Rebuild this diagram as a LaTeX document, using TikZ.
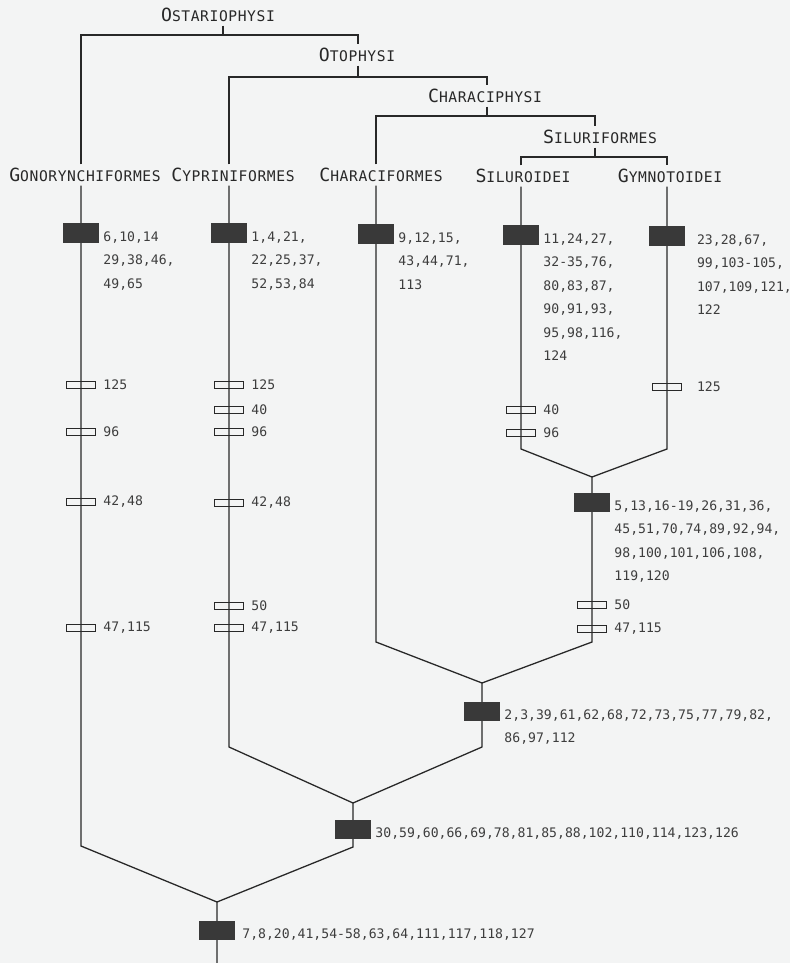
\documentclass[tikz,border=0pt]{standalone}
\usepackage{fontspec}
\newfontfamily\numfont{DejaVu Sans Mono}
\newfontfamily\taxfont[LetterSpace=4]{DejaVu Sans Mono}
\usetikzlibrary{positioning}
\definecolor{paper}{RGB}{243,244,244}
\definecolor{ink}{RGB}{40,40,40}
\newcommand{\taxon}[2]{{\fontsize{15.5}{15.5}\selectfont #1}#2}

\begin{document}
\begin{tikzpicture}[
  x=0.03cm, y=-0.03cm,
  line/.style={draw=ink, line width=1.1pt},
  taxon/.style={font={\taxfont\fontsize{12.5}{14}\selectfont}, text=ink, inner sep=3pt},
  syn/.style={rectangle, fill=ink!92, minimum width=1.08cm, minimum height=0.57cm, inner sep=0pt},
  hom/.style={rectangle, draw=ink, line width=0.9pt, minimum width=0.87cm, minimum height=0.21cm, inner sep=0pt},
  nums/.style={anchor=north west, xshift=3.4pt, yshift=1.3pt, inner sep=0pt, align=left,
               text=ink!90, font={\numfont\fontsize{11.2}{20}\selectfont}},
  note/.style={anchor=west, inner sep=0pt, text=ink!90, font={\numfont\fontsize{11.2}{13}\selectfont}}
]
  \useasboundingbox (0,0) rectangle (790,963);
  \fill[paper] (0,0) rectangle (790,963);

  \node[taxon] (ostar) at (218,15) {\taxon{O}{STARIOPHYSI}};
  \node[taxon] (otoph) at (357,55) {\taxon{O}{TOPHYSI}};
  \node[taxon] (charaph) at (485,96) {\taxon{C}{HARACIPHYSI}};
  \node[taxon] (silurif) at (600,137) {\taxon{S}{ILURIFORMES}};
  \node[taxon] (gonor) at (85,175) {\taxon{G}{ONORYNCHIFORMES}};
  \node[taxon] (cyprin) at (233,175) {\taxon{C}{YPRINIFORMES}};
  \node[taxon] (charaf) at (381,175) {\taxon{C}{HARACIFORMES}};
  \node[taxon] (siluro) at (523,176) {\taxon{S}{ILUROIDEI}};
  \node[taxon] (gymno) at (670,176) {\taxon{G}{YMNOTOIDEI}};

  \coordinate (oS) at (223,35); \coordinate (oL) at (81,35);  \coordinate (oR) at (358,35);
  \coordinate (tS) at (358,77); \coordinate (tL) at (229,77); \coordinate (tR) at (487,77);
  \coordinate (cS) at (487,116); \coordinate (cL) at (376,116); \coordinate (cR) at (595,116);
  \coordinate (sS) at (595,157); \coordinate (sL) at (521,157); \coordinate (sR) at (667,157);

  \draw[line] (ostar.south -| oS) -- (oS);
  \draw[line] (gonor.north -| oL) -- (oL) -- (oR) -- (otoph.north -| oR);
  \draw[line] (otoph.south -| tS) -- (tS);
  \draw[line] (cyprin.north -| tL) -- (tL) -- (tR) -- (charaph.north -| tR);
  \draw[line] (charaph.south -| cS) -- (cS);
  \draw[line] (charaf.north -| cL) -- (cL) -- (cR) -- (silurif.north -| cR);
  \draw[line] (silurif.south -| sS) -- (sS);
  \draw[line] (siluro.north -| sL) -- (sL) -- (sR) -- (gymno.north -| sR);

  \coordinate (gB) at (81,846);   \coordinate (jRoot) at (217,902); \coordinate (rootB) at (217,963);
  \coordinate (cB) at (229,747);  \coordinate (jOt) at (353,803);   \coordinate (otB) at (353,847);
  \coordinate (chB) at (376,642); \coordinate (jCp) at (482,683);   \coordinate (cpB) at (482,747);
  \coordinate (sB) at (521,449);  \coordinate (gyB) at (667,449);
  \coordinate (jSf) at (592,477); \coordinate (sfB) at (592,642);

  \draw[line] (gonor.south -| gB) -- (gB) -- (jRoot) -- (rootB);
  \draw[line] (cyprin.south -| cB) -- (cB) -- (jOt) -- (otB) -- (jRoot);
  \draw[line] (charaf.south -| chB) -- (chB) -- (jCp) -- (cpB) -- (jOt);
  \draw[line] (siluro.south -| sB) -- (sB) -- (jSf) -- (sfB) -- (jCp);
  \draw[line] (gymno.south -| gyB) -- (gyB) -- (jSf);

  \node[syn] (bG) at (81,233) {};
  \node[syn] (bC) at (229,233) {};
  \node[syn] (bCh) at (376,234) {};
  \node[syn] (bS) at (521,235) {};
  \node[syn] (bGy) at (667,236) {};
  \node[syn] (bSf) at (592,502) {};
  \node[syn] (bCp) at (482,711) {};
  \node[syn] (bOt) at (353,829) {};
  \node[syn] (bRoot) at (217,930) {};

  \node[nums] (tG) at (bG.east) {6,10,14\\29,38,46,\\49,65};
  \node[nums] (tC) at (bC.east) {1,4,21,\\22,25,37,\\52,53,84};
  \node[nums] (tCh) at (bCh.east) {9,12,15,\\43,44,71,\\113};
  \node[nums] (tS) at (bS.east) {11,24,27,\\32-35,76,\\80,83,87,\\90,91,93,\\95,98,116,\\124};
  \node[nums, xshift=6.5pt] (tGy) at (bGy.east) {23,28,67,\\99,103-105,\\107,109,121,\\122};
  \node[nums] (tSf) at (bSf.east) {5,13,16-19,26,31,36,\\45,51,70,74,89,92,94,\\98,100,101,106,108,\\119,120};
  \node[nums] (tCp) at (bCp.east) {2,3,39,61,62,68,72,73,75,77,79,82,\\86,97,112};
  \node[nums] (tOt) at (bOt.east) {30,59,60,66,69,78,81,85,88,102,110,114,123,126};
  \node[nums, xshift=2.5pt] (tRoot) at (bRoot.east) {7,8,20,41,54-58,63,64,111,117,118,127};

  \node[hom] (hG1) at (81,385) {};
  \node[hom] (hG2) at (81,432) {};
  \node[hom] (hG3) at (81,502) {};
  \node[hom] (hG4) at (81,628) {};
  \node[hom] (hC1) at (229,385) {};
  \node[hom] (hC2) at (229,410) {};
  \node[hom] (hC3) at (229,432) {};
  \node[hom] (hC4) at (229,503) {};
  \node[hom] (hC5) at (229,606) {};
  \node[hom] (hC6) at (229,628) {};
  \node[hom] (hS1) at (521,410) {};
  \node[hom] (hS2) at (521,433) {};
  \node[hom] (hGy1) at (667,387) {};
  \node[hom] (hSf1) at (592,605) {};
  \node[hom] (hSf2) at (592,629) {};

  \node[note] (nG1) at (tG.west |- hG1) {125};
  \node[note] (nG2) at (tG.west |- hG2) {96};
  \node[note] (nG3) at (tG.west |- hG3) {42,48};
  \node[note] (nG4) at (tG.west |- hG4) {47,115};
  \node[note] (nC1) at (tC.west |- hC1) {125};
  \node[note] (nC2) at (tC.west |- hC2) {40};
  \node[note] (nC3) at (tC.west |- hC3) {96};
  \node[note] (nC4) at (tC.west |- hC4) {42,48};
  \node[note] (nC5) at (tC.west |- hC5) {50};
  \node[note] (nC6) at (tC.west |- hC6) {47,115};
  \node[note] (nS1) at (tS.west |- hS1) {40};
  \node[note] (nS2) at (tS.west |- hS2) {96};
  \node[note] (nGy1) at (tGy.west |- hGy1) {125};
  \node[note] (nSf1) at (tSf.west |- hSf1) {50};
  \node[note] (nSf2) at (tSf.west |- hSf2) {47,115};
\end{tikzpicture}
\end{document}
